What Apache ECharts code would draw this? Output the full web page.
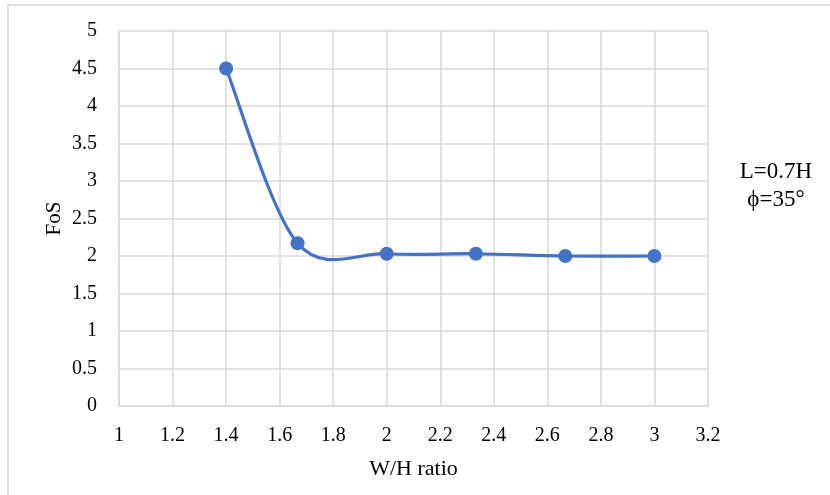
<!DOCTYPE html>
<html><head><meta charset="utf-8">
<script src="https://cdn.jsdelivr.net/npm/echarts@6/dist/echarts.min.js"></script>
<style>html,body{margin:0;padding:0;background:#fff}#c{width:830px;height:495px}</style>
</head><body><div id="c"></div>
<script>
const xValues = [1.4, 1.667, 2.0, 2.333, 2.667, 3.0];
const fosValues = [4.5, 2.17, 2.03, 2.03, 2.0, 2.0];
const xTicks = {min: 1, max: 3.2, interval: 0.2};
const yTicks = {min: 0, max: 5, interval: 0.5};
const noteLines = ['L=0.7H', 'ϕ=35°'];

const chart = echarts.init(document.getElementById('c'));
const font = '"Liberation Serif", "Times New Roman", serif';
const lineColor = '#4472C4';
const pointData = xValues.map((x, i) => [x, fosValues[i]]);

// Excel-style smoothed line: Catmull-Rom spline through the data points in pixel space
function renderSmooth(params, api) {
  if (params.dataIndex !== 0) return null;
  const p = pointData.map(d => api.coord(d));
  const n = p.length;
  const children = [];
  for (let i = 0; i < n - 1; i++) {
    const p0 = p[Math.max(i - 1, 0)], p1 = p[i], p2 = p[i + 1], p3 = p[Math.min(i + 2, n - 1)];
    children.push({
      type: 'bezierCurve',
      shape: {
        x1: p1[0], y1: p1[1], x2: p2[0], y2: p2[1],
        cpx1: p1[0] + (p2[0] - p0[0]) / 6, cpy1: p1[1] + (p2[1] - p0[1]) / 6,
        cpx2: p2[0] - (p3[0] - p1[0]) / 6, cpy2: p2[1] - (p3[1] - p1[1]) / 6
      },
      style: {stroke: lineColor, lineWidth: 3.2, fill: null, lineCap: 'round', lineJoin: 'round'}
    });
  }
  return {type: 'group', children};
}

chart.setOption({
  animation: false,
  graphic: [
    {type: 'rect', shape: {x: 8, y: 5, width: 830, height: 495}, style: {fill: 'none', stroke: '#d9d9d9', lineWidth: 1.5}},
    {type: 'text', style: {x: 776, y: 183, text: noteLines[0], font: '23px ' + font, fill: '#000', textAlign: 'center', textVerticalAlign: 'bottom'}},
    {type: 'text', style: {x: 776, y: 211, text: noteLines[1], font: '23px ' + font, fill: '#000', textAlign: 'center', textVerticalAlign: 'bottom'}}
  ],
  grid: {left: 119, right: 122, top: 31, bottom: 89},
  xAxis: {
    type: 'value', min: xTicks.min, max: xTicks.max, interval: xTicks.interval,
    name: 'W/H ratio', nameLocation: 'middle', nameGap: 52,
    nameTextStyle: {fontFamily: font, fontSize: 22, color: '#000'},
    axisLine: {show: true, lineStyle: {color: '#d9d9d9', width: 1.5}},
    axisTick: {show: false},
    splitLine: {show: true, lineStyle: {color: '#d9d9d9', width: 1.5}},
    axisLabel: {fontFamily: font, fontSize: 20, color: '#000', margin: 20,
      formatter: v => String(Math.round(v * 10) / 10)}
  },
  yAxis: {
    type: 'value', min: yTicks.min, max: yTicks.max, interval: yTicks.interval,
    name: 'FoS', nameLocation: 'middle', nameGap: 54, nameMoveOverlap: false,
    nameTextStyle: {fontFamily: font, fontSize: 21, color: '#000'},
    axisLine: {show: true, lineStyle: {color: '#d9d9d9', width: 1.5}},
    axisTick: {show: false},
    splitLine: {show: true, lineStyle: {color: '#d9d9d9', width: 1.5}},
    axisLabel: {fontFamily: font, fontSize: 20, color: '#000', margin: 22,
      formatter: v => String(Math.round(v * 10) / 10)}
  },
  series: [
    {type: 'custom', renderItem: renderSmooth, data: pointData, z: 2, silent: true},
    {type: 'scatter', data: pointData, symbol: 'circle', symbolSize: 14, z: 3,
      itemStyle: {color: lineColor, opacity: 1}}
  ]
});
</script></body></html>
